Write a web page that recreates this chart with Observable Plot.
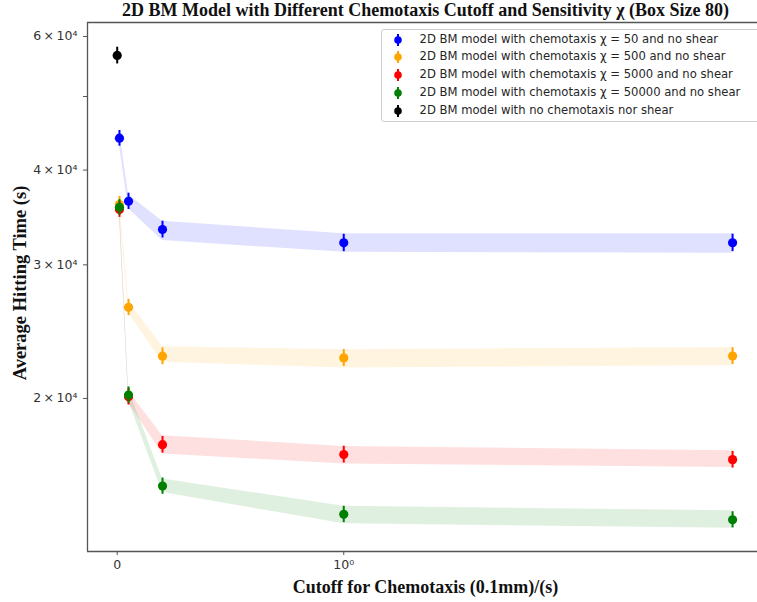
<!DOCTYPE html>
<html>
<head>
<meta charset="utf-8">
<script src="https://cdn.jsdelivr.net/npm/d3@7"></script>
<script src="https://cdn.jsdelivr.net/npm/@observablehq/plot@0.6"></script>
<style>
  html, body { margin: 0; padding: 0; background: #fff; }
  #wrap { position: relative; width: 757px; height: 602px; overflow: hidden; }
  #legend {
    position: absolute; left: 381px; top: 29px; width: 400px; height: 93px;
    border: 1px solid #cfcfcf; border-radius: 3px; background: rgba(255,255,255,0.85);
    box-sizing: border-box; font-family: "DejaVu Sans", sans-serif; font-size: 11.6px; color: #262626;
    padding-top: 0.5px;
  }
  .row { position: relative; height: 17.8px; line-height: 17.8px; white-space: nowrap; }
  .row svg { position: absolute; left: 10px; top: 3px; }
  .row span { position: absolute; left: 37.5px; }
</style>
</head>
<body>
<div id="wrap"><div id="chart"></div><div id="legend"></div></div>
<script>
// ---- data ----
const cutoffs = [0.01, 0.05, 0.2, 1, 5];

const chi50Mean = [44060, 36390, 33400, 32070, 32080];
const chi50Err  = [1050, 900, 850, 850, 850];
const chi50Lo   = [43130, 35580, 32300, 31160, 31070];
const chi50Hi   = [45010, 37120, 34240, 32960, 32960];

const chi500Mean = [36030, 26370, 22740, 22620, 22750];
const chi500Err  = [900, 650, 580, 580, 580];
const chi500Lo   = [35270, 25900, 22320, 21940, 22080];
const chi500Hi   = [36800, 26860, 23400, 23180, 23350];

const chi5000Mean = [35500, 20100, 17380, 16870, 16610];
const chi5000Err  = [850, 500, 440, 430, 420];
const chi5000Lo   = [34750, 19740, 16900, 16390, 16220];
const chi5000Hi   = [36260, 20460, 17860, 17290, 17060];

const chi50000Mean = [35720, 20210, 15330, 14070, 13840];
const chi50000Err  = [850, 500, 380, 350, 340];
const chi50000Lo   = [34970, 19850, 15030, 13670, 13490];
const chi50000Hi   = [36490, 20570, 15660, 14420, 14220];

const noChemoCutoff = [0];
const noChemoMean = [56640];
const noChemoErr  = [1440];

const seriesNames = [
  "2D BM model with chemotaxis χ = 50 and no shear",
  "2D BM model with chemotaxis χ = 500 and no shear",
  "2D BM model with chemotaxis χ = 5000 and no shear",
  "2D BM model with chemotaxis χ = 50000 and no shear",
  "2D BM model with no chemotaxis nor shear"
];
const seriesColors = ["#0000ff", "#ffa500", "#ff0000", "#008000", "#000000"];

const xTickValues = [0, 1];
const xTickLabels = ["0", "10⁰"];
const yTickValues = [20000, 30000, 40000, 50000, 60000];
const yTickLabels = ["2\u2009×\u200910⁴", "3\u2009×\u200910⁴", "4\u2009×\u200910⁴", "", "6\u2009×\u200910⁴"];

const titleText = "2D BM Model with Different Chemotaxis Cutoff and Sensitivity χ (Box Size 80)";
const xLabel = "Cutoff for Chemotaxis (0.1mm)/(s)";
const yLabel = "Average Hitting Time (s)";

// ---- matplotlib-style symlog (linthresh 2, linscale 1, base 10) ----
const LINTHRESH = 2, LINSCALE_ADJ = 1 / (1 - 1 / 10);
const symlog = v => Math.abs(v) <= LINTHRESH
  ? v * LINSCALE_ADJ
  : Math.sign(v) * LINTHRESH * (LINSCALE_ADJ + Math.log10(Math.abs(v) / LINTHRESH));

// ---- build tables ----
const groups = [
  {x: cutoffs, mean: chi50Mean, err: chi50Err, lo: chi50Lo, hi: chi50Hi},
  {x: cutoffs, mean: chi500Mean, err: chi500Err, lo: chi500Lo, hi: chi500Hi},
  {x: cutoffs, mean: chi5000Mean, err: chi5000Err, lo: chi5000Lo, hi: chi5000Hi},
  {x: cutoffs, mean: chi50000Mean, err: chi50000Err, lo: chi50000Lo, hi: chi50000Hi},
  {x: noChemoCutoff, mean: noChemoMean, err: noChemoErr, lo: null, hi: null}
];
const tables = groups.map((g, s) => g.x.map((x, i) => ({
  series: seriesNames[s],
  xt: symlog(x),
  mean: g.mean[i],
  e1: g.mean[i] - g.err[i],
  e2: g.mean[i] + g.err[i],
  lo: g.lo ? g.lo[i] : null,
  hi: g.hi ? g.hi[i] : null
})));

const W = 757, H = 602, ML = 87, MR = 0, MT = 22, MB = 51;
const xPixPerUnit = 203.9;
const zeroPix = 116.7;
const xDomain = [(ML - zeroPix) / xPixPerUnit, (W - MR - zeroPix) / xPixPerUnit];
const yDomain = [12568, 62600];

const marks = [];
tables.forEach((t, s) => {
  if (t[0].lo !== null) {
    marks.push(Plot.areaY(t, {x: "xt", y1: "lo", y2: "hi", fill: seriesColors[s], fillOpacity: 0.12, curve: "linear"}));
  }
});
tables.forEach((t, s) => {
  marks.push(Plot.ruleX(t, {x: "xt", y1: "e1", y2: "e2", stroke: seriesColors[s], strokeWidth: 2}));
  marks.push(Plot.dot(t, {x: "xt", y: "mean", r: 4.6, fill: seriesColors[s], stroke: "none"}));
});

const axisColor = "#555";
marks.push(
  Plot.axisY({ticks: yTickValues, tickFormat: d => yTickLabels[yTickValues.indexOf(d)], tickSize: 4, tickPadding: 6,
    fontSize: 12.5, fontFamily: "DejaVu Sans", color: "#333", stroke: axisColor, label: null}),
  Plot.axisX({ticks: xTickValues.map(symlog), tickFormat: d => xTickLabels[xTickValues.map(symlog).indexOf(d)],
    tickSize: 4, tickPadding: 5, fontSize: 12.5, fontFamily: "DejaVu Sans", color: "#333", stroke: axisColor, label: null}),
  Plot.ruleX([xDomain[0]], {stroke: axisColor, strokeWidth: 1.3}),
  Plot.ruleY([yDomain[0]], {stroke: axisColor, strokeWidth: 1.3}),
  Plot.ruleY([yDomain[1]], {stroke: axisColor, strokeWidth: 1.3}),
  Plot.text([titleText], {frameAnchor: "top", dy: -12, dx: 3, lineAnchor: "middle", fontSize: 18,
    fontWeight: "bold", fontFamily: "Liberation Serif", fill: "#111"}),
  Plot.text([xLabel], {frameAnchor: "bottom", dy: 36, dx: 3, lineAnchor: "middle", fontSize: 18,
    fontWeight: "bold", fontFamily: "Liberation Serif", fill: "#111"}),
  Plot.text([yLabel], {frameAnchor: "left", textAnchor: "middle", dx: -67, dy: -4, rotate: -90, lineAnchor: "middle", fontSize: 18.5,
    fontWeight: "bold", fontFamily: "Liberation Serif", fill: "#111"})
);

const chart = Plot.plot({
  width: W, height: H,
  marginLeft: ML, marginRight: MR, marginTop: MT, marginBottom: MB,
  style: {background: "#fff", overflow: "visible"},
  x: {type: "linear", domain: xDomain},
  y: {type: "log", domain: yDomain},
  marks
});
document.getElementById("chart").appendChild(chart);

// ---- legend ----
const legend = document.getElementById("legend");
seriesNames.forEach((name, s) => {
  const row = document.createElement("div");
  row.className = "row";
  row.innerHTML = `<svg width="12" height="12" viewBox="0 0 12 12">
      <line x1="6" x2="6" y1="0" y2="12" stroke="${seriesColors[s]}" stroke-width="2"/>
      <circle cx="6" cy="6" r="3.8" fill="${seriesColors[s]}"/></svg><span>${name}</span>`;
  legend.appendChild(row);
});
</script>
</body>
</html>
